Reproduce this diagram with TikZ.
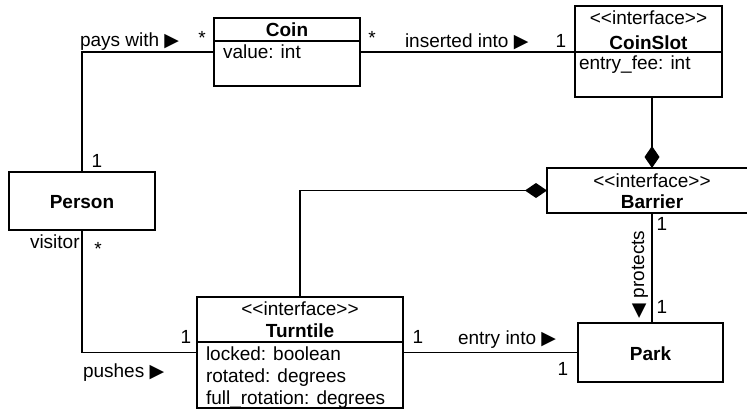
\documentclass[tikz,border=0pt]{standalone}
\usepackage{fontspec}
\setmainfont{Liberation Sans}
\newfontfamily\symfont{DejaVu Sans}
\usetikzlibrary{arrows.meta}

\newcommand\umlfont{\fontsize{19}{22}\selectfont}
% stereotype text; the empty groups keep << and >> from turning into guillemets
\newcommand\ifacestereo{<{}<interface>{}>}

\tikzset{
  box/.style={draw, line width=1.3pt, inner sep=0pt, outer sep=0pt, anchor=north west},
  txt/.style={inner sep=0pt, outer sep=0pt, anchor=base, font=\umlfont},
  txtl/.style={txt, anchor=base west},
  assoc/.style={line width=1.3pt},
  comp/.style={line width=1.3pt, -{Diamond[length=22pt,width=15pt]}},
}

\begin{document}
\begin{tikzpicture}[x=1pt, y=-1pt]
\useasboundingbox (0,0) rectangle (747,410);
\begin{scope}
\clip (0,0) rectangle (747,410);

% class boxes (header and attribute compartments)
\node[box, minimum width=146pt, minimum height=23pt] (coinh) at (214,18) {};
\node[box, minimum width=146pt, minimum height=45pt] (coinb) at (214,41) {};
\node[box, minimum width=147pt, minimum height=46pt] (sloth) at (575,6) {};
\node[box, minimum width=147pt, minimum height=45pt] (slotb) at (575,52) {};
\node[box, minimum width=146pt, minimum height=58pt] (person) at (9,172) {};
\node[box, minimum width=210pt, minimum height=45pt] (barrier) at (547,168) {};
\node[box, minimum width=145pt, minimum height=59pt] (park) at (578,323) {};
\node[box, minimum width=206pt, minimum height=45pt] (turnh) at (197,297) {};
\node[box, minimum width=206pt, minimum height=66pt] (turnb) at (197,342) {};

% class texts
\node[txt] (coinname) at (287,36) {\bfseries Coin};
\node[txtl] (coinval) at (223,58) {value: int};
\node[txt] (slotst) at (648.5,24) {\ifacestereo};
\node[txt] (slotname) at (648.5,49) {\bfseries CoinSlot};
\node[txtl] (slotfee) at (579,69) {entry\_fee: int};
\node[txt] (personname) at (82,208) {\bfseries Person};
\node[txt] (barst) at (652,187) {\ifacestereo};
\node[txt] (barname) at (652,208) {\bfseries Barrier};
\node[txt] (parkname) at (650.5,360) {\bfseries Park};
\node[txt] (turnst) at (300,315) {\ifacestereo};
\node[txt] (turnname) at (300,337) {\bfseries Turntile};
\node[txtl] (turnlock) at (206,360) {locked: boolean};
\node[txtl] (turnrot) at (206,382) {rotated: degrees};
\node[txtl] (turnfull) at (206,404) {full\_rotation: degrees};

% associations
\draw[assoc] (person.north) |- ([yshift=-11pt]coinb.north west);
\draw[assoc] ([yshift=-11pt]coinb.north east) -- (slotb.north west);
\draw[comp] (barrier.north |- slotb.south) -- (barrier.north);
\draw[comp] (turnh.north) |- (barrier.west);
\draw[assoc] (barrier.south) -- (barrier.south |- park.north);
\draw[assoc] (person.south) |- (turnb.west |- park.west);
\draw[assoc] (turnb.east |- park.west) -- (park.west);

% association labels and multiplicities
\node[txtl] (pays) at (80,46) {pays with {\symfont ▶}};
\node[txt] (m1) at (202,44.5) {*};
\node[txt] (m2) at (372,44.5) {*};
\node[txtl] (inserted) at (405,47) {inserted into {\symfont ▶}};
\node[txt] (m3) at (561,47) {1};
\node[txt] (m4) at (97,167) {1};
\node[txtl] (visitor) at (30,248) {visitor};
\node[txt] (m5) at (98,255) {*};
\node[txt] (m6) at (186,343) {1};
\node[txtl] (pushes) at (83,377) {pushes {\symfont ▶}};
\node[txt] (m7) at (418,343) {1};
\node[txtl] (entry) at (458,344) {entry into {\symfont ▶}};
\node[txt] (m8) at (563,375) {1};
\node[txt] (m9) at (662,230) {1};
\node[txt] (m10) at (662,313) {1};
\node[txtl, rotate=90] (protects) at (644,318) {{\symfont ◀} protects};
\end{scope}
\end{tikzpicture}
\end{document}
